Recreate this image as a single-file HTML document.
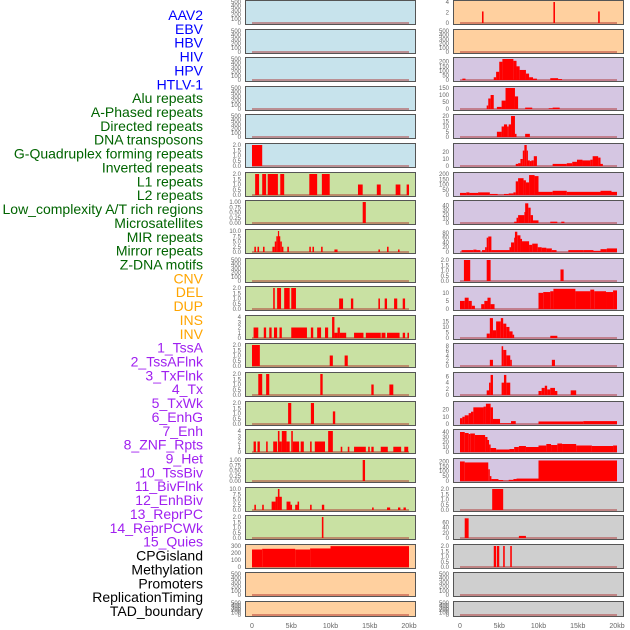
<!DOCTYPE html>
<html><head><meta charset="utf-8"><style>
html,body{margin:0;padding:0;background:#fff;width:630px;height:630px;overflow:hidden}
svg{display:block}
</style></head><body>
<svg id="chart" width="630" height="630" xmlns="http://www.w3.org/2000/svg" font-family="Liberation Sans, sans-serif"></svg>
<script>
// Row labels and colours
const labels = ["AAV2","EBV","HBV","HIV","HPV","HTLV-1","Alu repeats","A-Phased repeats","Directed repeats","DNA transposons","G-Quadruplex forming repeats","Inverted repeats","L1 repeats","L2 repeats","Low_complexity A/T rich regions","Microsatellites","MIR repeats","Mirror repeats","Z-DNA motifs","CNV","DEL","DUP","INS","INV","1_TssA","2_TssAFlnk","3_TxFlnk","4_Tx","5_TxWk","6_EnhG","7_Enh","8_ZNF_Rpts","9_Het","10_TssBiv","11_BivFlnk","12_EnhBiv","13_ReprPC","14_ReprPCWk","15_Quies","CPGisland","Methylation","Promoters","ReplicationTiming","TAD_boundary"];
const labelGroups = [0,0,0,0,0,0,1,1,1,1,1,1,1,1,1,1,1,1,1,2,2,2,2,2,3,3,3,3,3,3,3,3,3,3,3,3,3,3,3,4,4,4,4,4];
const groupColors = ["#0000ff","#006400","#ffa500","#a020f0","#000000"];

// x-axis ticks (kb)
const xTicks = [0,5,10,15,20];
const xTickLabels = ["0","5kb","10kb","15kb","20kb"];

// Tick sets
const t500 = [0,100,200,300,400,500];
const t2 = [0,0.5,1,1.5,2];
const t2L = ["0.0","0.5","1.0","1.5","2.0"];
const t1 = [0,0.25,0.5,0.75,1];
const t1L = ["0.00","0.25","0.50","0.75","1.00"];
const t10 = [0,2.5,5,7.5,10];
const t10L = ["0.0","2.5","5.0","7.5","10.0"];
const t4 = [0,1,2,3,4];

// Left column bars [startKb, endKb, value]
const L5 = [[0,1.3,2]];
const L6 = [[0.4,0.9,2],[1.3,1.8,2],[2.0,3.3,2],[3.6,4.1,2],[7.3,8.3,2],[8.9,9.9,2],[13.5,14.1,1],[15.9,16.4,1],[18.3,18.9,1],[19.7,20,1]];
const L7 = [[14.1,14.5,1]];
const L8 = [[0.3,0.5,2.5],[0.7,0.9,2.5],[1.4,1.6,2.5],[2.6,2.9,2.5],[2.9,3.1,5],[3.1,3.3,7.5],[3.3,3.4,10],[3.4,3.6,7.5],[3.6,3.8,5],[3.8,4.0,2.5],[4.5,4.7,2.5],[7.3,7.5,2.5],[7.7,7.9,2.5],[8.8,9.0,2.5],[10.5,10.9,1.2],[16.1,16.3,1.2],[17.2,17.4,2.5],[18.6,18.8,1.2]];
const L10 = [[2.7,2.9,2],[3.2,3.7,2],[4.1,4.8,2],[5.0,5.6,2],[11.1,11.6,1],[12.6,12.9,1],[16.1,16.3,1],[16.9,17.2,1],[18.1,18.5,1],[19.2,19.5,1]];
const L11 = [[0.2,0.8,2],[1.5,1.8,2],[2.2,2.5,2],[2.8,3.2,2],[3.5,3.8,2],[5.0,7.0,2],[7.5,7.8,2],[8.3,8.8,2],[9.3,9.7,2],[10.2,10.5,4],[10.5,10.9,1],[10.9,11.2,2],[11.2,12.0,1],[13.0,14.2,1],[14.5,16.4,1],[16.5,17.0,1],[17.2,18.8,1],[19.2,19.5,1],[19.8,20,1]];
const L12 = [[0,1.0,2],[9.9,10.3,1],[11.8,12.2,1]];
const L13 = [[0.8,1.3,2],[1.8,2.2,2],[8.7,9.0,2],[15.2,15.5,1],[17.5,18.0,1]];
const L14 = [[4.6,5.0,2],[7.5,7.9,2],[10.3,10.6,1.2]];
const L15 = [[0.2,0.5,2],[0.7,1.0,2],[1.8,2.0,2],[2.7,3.2,2],[3.3,3.5,4],[3.5,3.8,2],[3.8,4.4,4],[4.4,4.8,2],[5.0,5.2,4],[5.2,6.0,2],[6.2,6.6,2],[7.4,7.6,2],[8.0,9.3,2],[9.7,10.3,4],[11.3,11.5,1],[12.2,12.4,1],[13.0,14.5,1],[14.8,15.0,1],[15.2,15.5,1],[16.4,17.3,1],[18.0,19.0,1],[19.4,19.9,1]];
const L16 = [[14.1,14.4,1]];
const L17 = [[0.3,0.5,2.5],[1.3,1.5,2.5],[2.5,3.0,4],[3.0,3.3,6.3],[3.3,3.5,10],[3.5,3.8,6.3],[4.4,4.9,4],[4.9,5.1,2.5],[5.5,5.8,2.5],[5.8,6.0,4],[7.4,7.6,2.5],[8.9,9.2,2.5],[15.3,15.5,1.2],[17.2,17.6,1.2],[18.6,18.9,1.2],[19.3,19.6,1.2]];
const L18 = [[8.9,9.1,2]];
const L19 = [[0,1.3,250],[1.3,5.5,260],[5.5,7.4,250],[7.4,10,265],[10,20,298]];

// Right column bars
const R0 = [[2.8,3.0,2.2],[11.9,12.1,4],[17.6,17.8,2.2]];
const R2 = [[0.3,0.7,15],[4.3,4.6,30],[4.6,5.0,90],[5.0,5.4,200],[5.4,6.8,230],[6.8,7.2,210],[7.2,7.6,150],[7.6,8.4,110],[8.4,8.8,70],[8.8,9.3,30],[9.3,9.8,15],[11.5,12.5,20],[12.5,13.0,10]];
const R3 = [[3.4,3.6,25],[3.6,3.9,75],[3.9,4.3,100],[4.7,5.3,15],[5.3,5.8,60],[5.8,7.0,150],[7.0,7.4,90],[8.3,9.2,10],[11.3,11.8,5],[11.8,12.7,10]];
const R4 = [[4.7,5.3,5],[5.3,5.6,10],[5.6,6.0,12],[6.0,6.2,10],[6.2,6.5,12],[6.5,7.0,20],[7.0,7.2,3],[8.3,8.9,3]];
const R5 = [[7.1,7.4,3],[7.4,7.7,4],[7.7,8.0,10],[8.0,8.2,22],[8.2,8.5,30],[8.5,8.6,22],[8.6,8.9,8],[8.9,9.1,7],[9.1,9.4,8],[9.4,9.8,14],[11.8,13.6,3],[13.6,14.3,4],[14.3,14.9,6],[14.9,15.6,9],[15.6,16.6,8],[16.6,16.9,9],[16.9,17.6,14],[17.6,17.9,12],[17.9,18.2,3]];
const R6 = [[0,0.8,20],[0.8,1.2,25],[1.2,2.3,20],[2.3,3.8,25],[3.8,4.8,10],[4.8,5.6,3],[5.6,6.2,10],[6.2,6.8,15],[6.8,7.1,25],[7.1,7.4,130],[7.4,8.1,160],[8.1,8.4,140],[8.4,8.8,120],[8.8,9.5,190],[9.5,10.0,180],[10.0,11.8,30],[11.8,13.6,40],[13.6,17.9,30],[17.9,19.3,40],[19.3,20,30]];
const R7 = [[6.9,7.2,3],[7.2,7.4,12],[7.4,8.2,18],[8.2,8.3,25],[8.3,8.7,45],[8.7,9.0,35],[9.0,9.3,18],[9.3,10.0,6],[11.5,12.4,3],[12.9,13.3,3]];
const R8 = [[0.2,1.7,8],[1.7,2.1,10],[2.1,2.6,8],[2.8,3.2,8],[3.2,3.4,20],[3.4,3.6,60],[3.6,4.0,65],[4.0,6.3,8],[6.3,6.5,20],[6.5,6.9,40],[6.9,7.0,60],[7.0,7.3,85],[7.3,7.7,70],[7.7,7.9,55],[7.9,8.8,45],[8.8,9.2,30],[9.2,9.9,35],[9.9,10.4,20],[10.4,11.0,18],[11.0,11.7,15],[11.7,12.3,8],[13.8,15.7,8],[15.7,17.0,8],[17.0,17.9,5],[17.9,18.7,12],[18.7,20,15]];
const R9 = [[0.5,1.3,2],[3.4,3.9,2],[12.8,13.2,1.1]];
const R10 = [[0,0.6,5],[0.6,1.1,7],[1.1,1.5,5],[1.5,1.9,2],[2.7,3.1,3],[3.1,3.5,5],[3.5,3.9,7],[3.9,4.4,3],[10.0,10.6,10],[10.6,11.5,10.5],[11.5,11.9,11],[11.9,14.7,12.5],[14.7,16.6,11],[16.6,17.1,12],[17.1,18.6,11],[18.6,19.5,10.5],[19.5,20,11.5]];
const R11 = [[3.4,3.8,4],[3.8,4.2,18],[4.2,4.6,7],[4.6,5.2,15],[5.2,5.5,18],[5.5,5.9,13],[5.9,6.3,10],[6.3,6.7,6],[6.7,6.9,3],[11.5,12.4,2]];
const R12 = [[3.8,4.2,2.5],[5.3,5.5,8],[5.5,5.9,6.5],[5.9,6.4,4.3],[6.4,6.6,2.5],[11.7,12.1,2.5]];
const R13 = [[3.4,3.7,1.5],[3.7,3.9,4],[3.9,4.2,6.5],[5.3,5.6,4],[5.6,5.9,6.5],[5.9,6.4,4],[10.0,10.4,1.3],[10.4,10.8,2.3],[10.8,11.1,3],[11.1,11.5,1.8],[11.5,12.1,2.3],[12.1,12.4,1.3],[14.1,14.8,1.5]];
const R14 = [[0,0.3,8],[0.3,0.6,10],[0.6,1.1,12],[1.1,1.4,15],[1.4,1.7,17],[1.7,3.0,23],[3.0,3.3,24],[3.3,3.9,28],[3.9,4.2,23],[4.2,5.1,7],[5.1,6.5,1],[6.5,7.1,4],[10.0,15.7,3.5],[15.7,20,4]];
const R15 = [[0,0.6,40],[0.6,1.1,38],[1.1,1.3,36],[1.3,1.9,37],[1.9,3.2,34],[3.2,3.5,30],[3.5,3.7,24],[3.7,3.9,15],[3.9,4.6,8],[4.6,6.3,5],[6.3,6.9,6],[6.9,7.5,10],[7.5,8.4,12],[8.4,10.0,10],[10.0,11.0,13],[11.0,11.6,16],[11.6,12.4,14],[12.4,13.0,17],[13.0,14.8,16],[14.8,16.8,13],[16.8,19.5,12],[19.5,20,13]];
const R16 = [[0,0.6,200],[0.6,3.6,190],[3.6,3.8,120],[3.8,4.0,50],[4.0,4.9,20],[4.9,5.5,10],[5.5,6.2,3],[6.2,6.8,12],[6.8,7.2,20],[7.2,10.0,25],[10.0,20,210]];
const R17 = [[4.1,5.5,2]];
const R18 = [[0.6,1.1,75],[7.5,8.4,8]];
const R19 = [[4.3,4.6,2],[4.7,5.0,2],[5.5,5.7,2],[6.4,6.6,2]];

const BLUE="#c7e3ec", GREEN="#c9e1a3", PEACH="#ffd09f", PURPLE="#d5c6e2", GREY="#cfcfcf";

// panel specs: [bars, yMax, ticks, tickLabels, bg]
const leftPanels = [
 [[],500,t500,null,BLUE],[[],500,t500,null,BLUE],[[],500,t500,null,BLUE],[[],500,t500,null,BLUE],[[],500,t500,null,BLUE],
 [L5,2,t2,t2L,BLUE],[L6,2,t2,t2L,GREEN],[L7,1,t1,t1L,GREEN],[L8,10,t10,t10L,GREEN],[[],500,t500,null,GREEN],
 [L10,2,t2,t2L,GREEN],[L11,4,t4,null,GREEN],[L12,2,t2,t2L,GREEN],[L13,2,t2,t2L,GREEN],[L14,2,t2,t2L,GREEN],
 [L15,4,t4,null,GREEN],[L16,1,t1,t1L,GREEN],[L17,10,t10,t10L,GREEN],[L18,2,t2,t2L,GREEN],
 [L19,300,[0,100,200,300],null,PEACH],[[],500,t500,null,PEACH],[[],500,t500,null,PEACH]];
const rightPanels = [
 [R0,4,[0,2,4],null,PEACH],[[],500,t500,null,PEACH],
 [R2,230,[0,50,100,150,200],null,PURPLE],[R3,150,[0,50,100,150],null,PURPLE],[R4,20,[0,5,10,15,20],null,PURPLE],
 [R5,30,[0,10,20],null,PURPLE],[R6,200,[0,50,100,150,200],null,PURPLE],[R7,48,[0,10,20,30,40],null,PURPLE],
 [R8,88,[0,20,40,60,80],null,PURPLE],[R9,2,t2,t2L,PURPLE],[R10,13,[0,5,10],null,PURPLE],[R11,19,[0,5,10,15],null,PURPLE],
 [R12,8.5,[0,2,4,6,8],null,PURPLE],[R13,6.8,[0,2,4,6],null,PURPLE],[R14,29,[0,10,20],null,PURPLE],
 [R15,42,[0,10,20,30,40],null,PURPLE],[R16,215,[0,50,100,150,200],null,PURPLE],
 [R17,2,t2,t2L,GREY],[R18,80,[0,20,40,60],null,GREY],[R19,2,t2,t2L,GREY],[[],500,t500,null,GREY],[[],500,t500,null,GREY]];

const NS="http://www.w3.org/2000/svg";
const svg=document.getElementById('chart');
function mk(tag,attrs,parent){const e=document.createElementNS(NS,tag);for(const k in attrs)e.setAttribute(k,attrs[k]);(parent||svg).appendChild(e);return e;}

// labels
const lg=mk('g',{});


labels.forEach((t,i)=>{
  const e=mk('text',{x:203,y:15+i*13.86+5,'text-anchor':'end','font-size':'14',fill:groupColors[labelGroups[i]]},lg);
  
  
  e.textContent=t;
});

function panelTop(i){return Math.round(i*28.62);}
function panelH(i){return i===21?16:25;}

function drawColumn(panels,px,colName){
  const W=171, x0=px+7, kbPx=157/20;
  const xs=kb=>x0+kb*kbPx;
  const g=mk('g',{});
  
  
  panels.forEach((p,i)=>{
    const [bars,yMax,ticks,tickL,bg]=p;
    const top=panelTop(i), h=panelH(i);
    const yb=top+h-2, yt=top+2;
    const ys=v=>yb-(v/yMax)*(yb-yt);
    const pg=mk('g',{},g);
    
    
    mk('rect',{x:px,y:top,width:W,height:h,fill:bg},pg);
    mk('rect',{x:xs(0),y:yb-1,width:xs(20)-xs(0),height:2,fill:'rgba(170,40,40,0.45)'},pg);
    bars.forEach(b=>{
      const r=mk('rect',{x:xs(b[0]),y:ys(b[2]),width:Math.max(1.2,xs(b[1])-xs(b[0])),height:yb-ys(b[2]),fill:'#ff0000'},pg);
      
      
    });
    mk('rect',{x:px+0.5,y:top+0.5,width:W-1,height:h-1,fill:'none',stroke:'#555','stroke-width':1},pg);
    ticks.forEach((t,k)=>{
      const tx=mk('text',{x:px-4,y:ys(t)+2,'text-anchor':'end','font-size':'6',fill:'#666'},pg);
      
      
      tx.textContent=tickL?tickL[k]:String(t);
    });
  });
  xTicks.forEach((t,k)=>{
    const tx=mk('text',{x:xs(t),y:628,'text-anchor':'middle','font-size':'7',fill:'#666'},g);
    
    
    tx.textContent=xTickLabels[k];
  });
}
drawColumn(leftPanels,245,'left-track-column');
drawColumn(rightPanels,453,'right-track-column');
</script>
</body></html>
